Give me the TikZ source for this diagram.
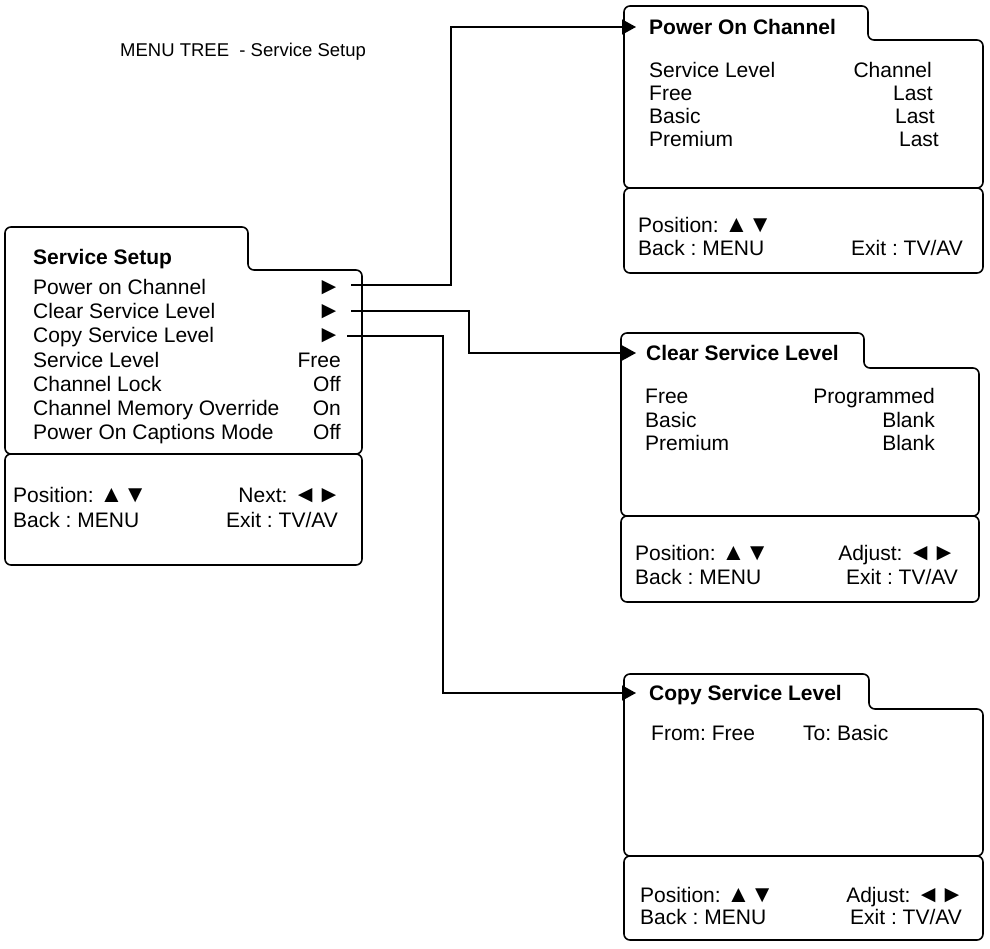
\documentclass[tikz,border=0pt]{standalone}
\usepackage{fontspec}
\setmainfont{Liberation Sans}
\usetikzlibrary{arrows.meta}
\frenchspacing
\newcommand\fs{\fontsize{21}{24}\selectfont}
\newcommand\fsh{\fontsize{18.5}{22}\selectfont}
\newcommand\sy[1]{{\fontsize{24}{26}\selectfont #1}}
\begin{document}
\begin{tikzpicture}[x=1pt,y=-1pt,
  box/.style={line width=1.6pt, rounded corners=6pt},
  lt/.style={inner sep=0pt, anchor=base west, font=\fs},
  rt/.style={inner sep=0pt, anchor=base east, font=\fs},
  ttl/.style={inner sep=0pt, anchor=base west, font=\fs\bfseries},
  conn/.style={line width=1.6pt, -{Triangle[length=14pt,width=15pt]}}]
\useasboundingbox (0,0) rectangle (990,949);

% heading
\node[inner sep=0pt, anchor=base west, font=\fsh] (head) at (120,57) {MENU TREE\ \ - Service Setup};

% ---------- left box: Service Setup ----------
\draw[box] (5,454) -- (5,227) -- (248,227) -- (248,270) -- (362,270) -- (362,454) -- cycle;
\draw[box] (5,454) rectangle (362,565);
\node[ttl] (Lt) at (33,264.5) {Service Setup};
\node[lt] (L1) at (33,294.5) {Power on Channel};
\node[lt] (L2) at (33,318.7) {Clear Service Level};
\node[lt] (L3) at (33,342.9) {Copy Service Level};
\node[lt] (L4) at (33,367.1) {Service Level};
\node[lt] (L5) at (33,391.3) {Channel Lock};
\node[lt] (L6) at (33,415.5) {Channel Memory Override};
\node[lt] (L7) at (33,439.7) {Power On Captions Mode};
\node[rt] (P1) at (341,294.5) {\sy{►}};
\node[rt] (P2) at (341,318.7) {\sy{►}};
\node[rt] (P3) at (341,342.9) {\sy{►}};
\node[rt] (V4) at (341,367.1) {Free};
\node[rt] (V5) at (341,391.3) {Off};
\node[rt] (V6) at (341,415.5) {On};
\node[rt] (V7) at (341,439.7) {Off};
\node[lt] (Lpos) at (13,502.5) {Position: \sy{▲▼}};
\node[lt] (Lback) at (13,527.5) {Back : MENU};
\node[rt] (Lnext) at (341,502.5) {Next: \sy{◄►}};
\node[rt] (Lexit) at (338,527.5) {Exit : TV/AV};

% ---------- top right: Power On Channel ----------
\draw[box] (624,188) -- (624,6) -- (868,6) -- (868,40) -- (983,40) -- (983,188) -- cycle;
\draw[box] (624,188) rectangle (983,273);
\node[ttl] (Tt) at (649,34.5) {Power On Channel};
\node[lt] (T1) at (649,77.5) {Service Level};
\node[lt] (T2) at (649,100.5) {Free};
\node[lt] (T3) at (649,123.5) {Basic};
\node[lt] (T4) at (649,147) {Premium};
\node[rt] (TV1) at (932,77.5) {Channel};
\node[rt] (TV2) at (933,100.5) {Last};
\node[rt] (TV3) at (935,123.5) {Last};
\node[rt] (TV4) at (939,147) {Last};
\node[lt] (Tpos) at (638,232.5) {Position: \sy{▲▼}};
\node[lt] (Tback) at (638,255.5) {Back : MENU};
\node[rt] (Texit) at (963,255.5) {Exit : TV/AV};

% ---------- middle right: Clear Service Level ----------
\draw[box] (621,516) -- (621,333) -- (864,333) -- (864,368) -- (979,368) -- (979,516) -- cycle;
\draw[box] (621,516) rectangle (979,602);
\node[ttl] (Ct) at (646,360.5) {Clear Service Level};
\node[lt] (C1) at (645,403.5) {Free};
\node[lt] (C2) at (645,427) {Basic};
\node[lt] (C3) at (645,450.5) {Premium};
\node[rt] (CV1) at (935,403.5) {Programmed};
\node[rt] (CV2) at (935,427) {Blank};
\node[rt] (CV3) at (935,450.5) {Blank};
\node[lt] (Cpos) at (635,560.5) {Position: \sy{▲▼}};
\node[lt] (Cback) at (635,584.5) {Back : MENU};
\node[rt] (Cadj) at (956,560.5) {Adjust: \sy{◄►}};
\node[rt] (Cexit) at (958,584.5) {Exit : TV/AV};

% ---------- bottom right: Copy Service Level ----------
\draw[box] (624,856) -- (624,674) -- (869,674) -- (869,709) -- (983,709) -- (983,856) -- cycle;
\draw[box] (624,856) rectangle (983,940);
\node[ttl] (Kt) at (649,700.5) {Copy Service Level};
\node[lt] (K1) at (651,740.5) {From: Free};
\node[lt] (K2) at (803,740.5) {To: Basic};
\node[lt] (Kpos) at (640,902.5) {Position: \sy{▲▼}};
\node[lt] (Kback) at (640,924.5) {Back : MENU};
\node[rt] (Kadj) at (964,902.5) {Adjust: \sy{◄►}};
\node[rt] (Kexit) at (962,924.5) {Exit : TV/AV};

% ---------- connectors ----------
\coordinate (s1) at (351,285);
\coordinate (s2) at (351,311);
\coordinate (s3) at (347,336);
\coordinate (t1) at (636,27);
\coordinate (t2) at (636,353);
\coordinate (t3) at (636,693);
\draw[conn] (s1) -- (451,285) |- (t1);
\draw[conn] (s2) -- (469,311) |- (t2);
\draw[conn] (s3) -- (443,336) |- (t3);
\end{tikzpicture}
\end{document}
